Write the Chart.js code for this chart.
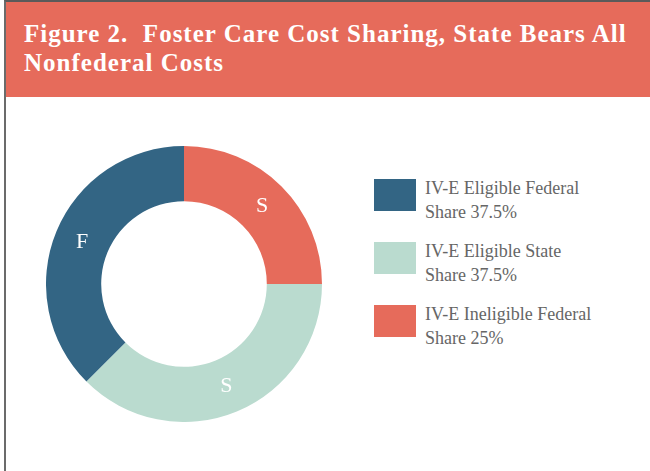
<!DOCTYPE html>
<html>
<head>
<meta charset="utf-8">
<script src="https://cdn.jsdelivr.net/npm/chart.js@4"></script>
<style>
  body { margin: 0; background: #fff; }
  #frame {
    position: relative; width: 650px; height: 471px; overflow: hidden;
    box-sizing: border-box; border-left: 2px solid #6b6b6b; border-top: 2px solid #5a5a5a;
    margin-left: 4px; font-family: "Liberation Serif", serif;
  }
  #header {
    position: absolute; left: 0; top: 0; width: 100%; height: 95px;
    background: #E66B5B; color: #fff; font-weight: bold; font-size: 25px; letter-spacing: 1px;
    line-height: 29px; padding: 17px 0 0 18px; box-sizing: border-box;
  }
  #chartWrap { position: absolute; left: 40px; top: 144px; width: 276px; height: 276px; }
  #legend { position: absolute; left: 368px; top: 177px; }
  .item { display: flex; align-items: flex-start; height: 63px; }
  .box { width: 42px; height: 32px; margin-top: 0; }
  .txt { margin-left: 9px; color: #666; font-size: 18px; line-height: 24px; margin-top: -3px; }
</style>
</head>
<body>
<div id="frame">
  <div id="header">Figure 2.&nbsp; Foster Care Cost Sharing, State Bears All<br>Nonfederal Costs</div>
  <div id="chartWrap"><canvas id="myChart" width="276" height="276"></canvas></div>
  <div id="legend"></div>
</div>
<script>
// slices clockwise from 12 o'clock
const labels = ['IV-E Ineligible Federal Share 25%', 'IV-E Eligible State Share 37.5%', 'IV-E Eligible Federal Share 37.5%'];
const legendLines = [['IV-E Ineligible Federal', 'Share 25%'], ['IV-E Eligible State', 'Share 37.5%'], ['IV-E Eligible Federal', 'Share 37.5%']];
const shares = [25, 37.5, 37.5];
const sliceTags = ['S', 'S', 'F'];
const colors = ['#E66B5B', '#BADBCF', '#336584'];

// draws the letter in the middle of each slice
const sliceLabels = {
  id: 'sliceLabels',
  afterDatasetsDraw(chart) {
    const ctx = chart.ctx;
    const meta = chart.getDatasetMeta(0);
    ctx.save();
    ctx.fillStyle = '#fff';
    ctx.font = '22px "Liberation Serif", serif';
    ctx.textAlign = 'center';
    ctx.textBaseline = 'middle';
    meta.data.forEach((arc, i) => {
      const p = arc.tooltipPosition();
      ctx.fillText(sliceTags[i], p.x, p.y);
    });
    ctx.restore();
  }
};

const ctx = document.getElementById('myChart').getContext('2d');
const c = new Chart(ctx, {
  type: 'doughnut',
  data: {
    labels: labels,
    datasets: [{
      data: shares,
      backgroundColor: colors,
      borderWidth: 0
    }]
  },
  options: {
    responsive: false,
    animation: false,
    cutout: '60%',
    layout: { padding: 0 },
    plugins: { legend: { display: false }, tooltip: { enabled: false } }
  },
  plugins: [sliceLabels]
});

// legend order is reversed from the slice order
const legend = document.getElementById('legend');
for (let i = shares.length - 1; i >= 0; i--) {
  const item = document.createElement('div');
  item.className = 'item';
  item.innerHTML = '<div class="box" style="background:' + colors[i] + '"></div>' +
    '<div class="txt">' + legendLines[i].join('<br>') + '</div>';
  legend.appendChild(item);
}
</script>
</body>
</html>
